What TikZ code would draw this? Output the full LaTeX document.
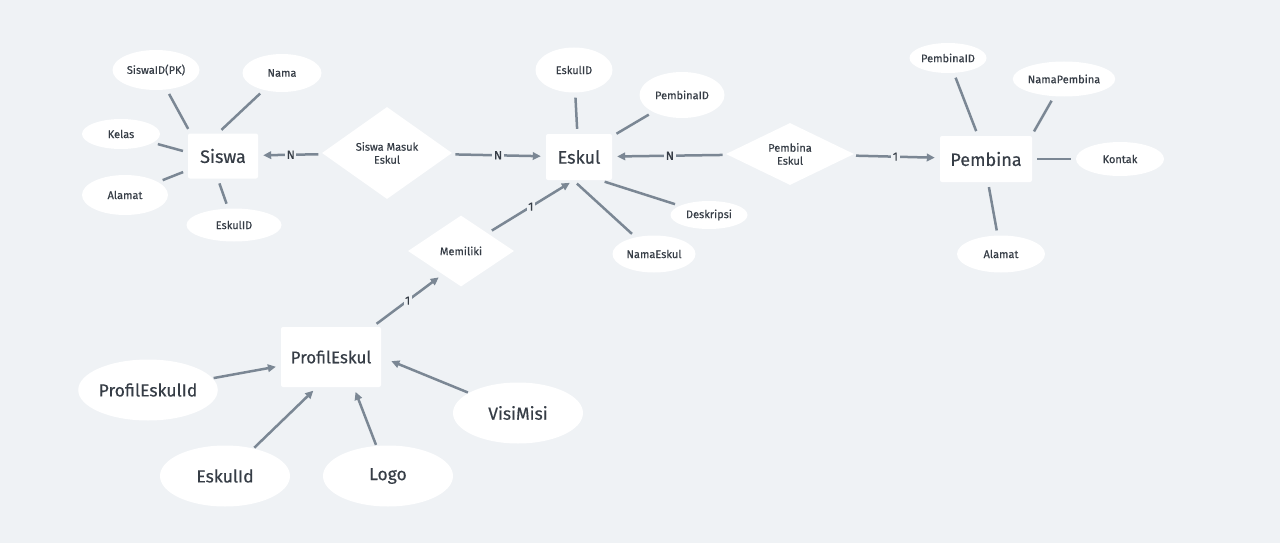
\documentclass[tikz,border=0pt]{standalone}
\usepackage{fontspec}
\setmainfont{Fira Sans}[FakeBold=0.4]
\usetikzlibrary{shapes.geometric,arrows.meta,positioning}
\definecolor{bgcol}{HTML}{EFF2F5}
\definecolor{linecol}{HTML}{7B8794}
\definecolor{txtcol}{HTML}{363D46}

\begin{document}
\begin{tikzpicture}[x=1pt,y=-1pt,>={Triangle[length=8pt,width=7.5pt]},
   font=\fontsize{11}{13}\selectfont,text=txtcol,
   entity/.style={rectangle,rounded corners=2pt,fill=white,font=\fontsize{18}{20}\selectfont},
   attr/.style={ellipse,fill=white,inner sep=0pt,minimum width=86pt,minimum height=36pt},
   bigattr/.style={attr,minimum width=130pt,minimum height=61pt,font=\fontsize{17.5}{20}\selectfont},
   rel/.style={diamond,aspect=2,fill=white,inner sep=0pt,align=center},
   link/.style={every edge/.style={draw=linecol,line width=2.5pt,shorten >=5pt,shorten <=5pt}},
   arrowlink/.style={link,every edge/.append style={->,shorten <=1pt}},
   card/.style={fill=bgcol,inner sep=1.5pt,font=\fontsize{12}{14}\selectfont}]
   \useasboundingbox[fill=bgcol] (0,0) rectangle (1280,543);
   % entities
   \node[entity,minimum width=70pt,minimum height=45pt] (siswa) at (223,156) {Siswa};
   \node[entity,minimum width=66pt,minimum height=46pt] (eskul) at (579,157) {Eskul};
   \node[entity,minimum width=92pt,minimum height=46pt] (pembina) at (986,159) {Pembina};
   \node[entity,minimum width=100pt,minimum height=60pt,font=\fontsize{17}{20}\selectfont] (profil) at (331,357) {ProfilEskul};
   % relations
   \node[rel,minimum width=130pt,minimum height=92pt] (masuk) at (387,153) {Siswa Masuk\\Eskul};
   \node[rel,minimum width=128pt,minimum height=62pt] (bina) at (790,154) {Pembina\\Eskul};
   \node[rel,minimum width=106pt,minimum height=71pt] (punya) at (461,251) {Memiliki};
   % attributes of Siswa
   \node[attr,minimum width=87pt,minimum height=40pt] (s_id) at (156,70) {SiswaID(PK)};
   \node[attr,minimum width=79pt,minimum height=38pt] (s_nama) at (282,73) {Nama};
   \node[attr,minimum width=78pt,minimum height=30pt] (s_kelas) at (121,134) {Kelas};
   \node[attr,minimum width=86pt,minimum height=40pt] (s_alamat) at (125,195) {Alamat};
   \node[attr,minimum width=95pt,minimum height=33pt] (s_eskul) at (234,225) {EskulID};
   % attributes of Eskul
   \node[attr,minimum width=77pt,minimum height=45pt] (e_id) at (574,70) {EskulID};
   \node[attr,minimum width=85pt,minimum height=46pt] (e_pemb) at (682,95) {PembinaID};
   \node[attr,minimum width=77pt,minimum height=28pt] (e_desk) at (709,215) {Deskripsi};
   \node[attr,minimum width=83pt,minimum height=37pt] (e_nama) at (654,254) {NamaEskul};
   % attributes of Pembina
   \node[attr,minimum width=77pt,minimum height=30pt] (p_id) at (948,58) {PembinaID};
   \node[attr,minimum width=93pt,minimum height=35pt] (p_nama) at (1064,79) {NamaPembina};
   \node[attr,minimum width=88pt,minimum height=34pt] (p_kontak) at (1120,159) {Kontak};
   \node[attr,minimum width=88pt,minimum height=37pt] (p_alamat) at (1001,254) {Alamat};
   % attributes of ProfilEskul
   \node[bigattr] (f_id) at (148,390) {ProfilEskulId};
   \node[bigattr] (f_eskul) at (225,476) {EskulId};
   \node[bigattr] (f_logo) at (388,476) {Logo};
   \node[bigattr] (f_visi) at (518,413) {VisiMisi};

   \path[link]
    (s_id) edge (siswa.145) (s_nama) edge (siswa.103) (s_kelas) edge (siswa.174)
    (s_alamat) edge (siswa.202) (s_eskul) edge (siswa.257)
    (e_id) edge (eskul.94) (e_pemb) edge (eskul.32) (e_desk) edge (eskul.312) (e_nama) edge (eskul.256)
    (p_id) edge (pembina.109) (p_nama) edge (pembina.27) (p_kontak) edge (pembina.east) (p_alamat) edge (pembina.275);
   \path[arrowlink]
    (f_id) edge (profil.190) (f_eskul) edge (profil.245) (f_logo) edge (profil.307)
    (f_visi) edge [shorten >=11pt] (profil.east);
   \path[link,every edge/.append style={->}]
    (masuk) edge node[card] {N} (siswa)
            edge node[card] {N} (eskul)
    (bina) edge node[card] {N} (eskul)
           edge node[card] {1} (pembina)
    (punya.north east) edge node[card] {1} (eskul.258)
    (profil.36) edge node[card] {1} (punya.232);
\end{tikzpicture}
\end{document}
